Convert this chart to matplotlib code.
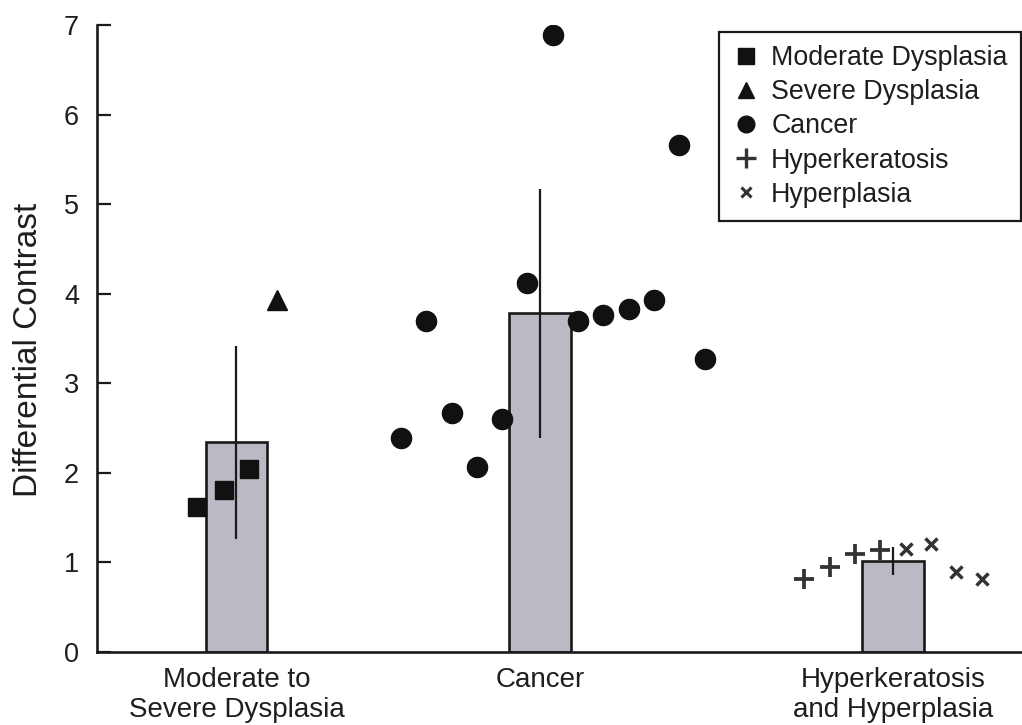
import matplotlib
matplotlib.use("Agg")
import matplotlib.pyplot as plt
from matplotlib.lines import Line2D

plt.rcParams['font.family'] = ['Liberation Sans', 'DejaVu Sans']

# Group summary (bar height = mean, line = spread)
groups = ["Moderate to\nSevere Dysplasia", "Cancer", "Hyperkeratosis\nand Hyperplasia"]
group_pos = [1.0, 2.2, 3.595]
bar_means = [2.34, 3.78, 1.01]
bar_err = [1.08, 1.39, 0.16]

# Individual lesions: offset from group centre and measured value
mod_dys_off = [-0.155, -0.05, 0.05]
mod_dys_val = [1.61, 1.81, 2.04]

sev_dys_off = [0.16]
sev_dys_val = [3.93]

cancer_off = [-0.55, -0.45, -0.35, -0.25, -0.15, -0.05, 0.05,
              0.15, 0.25, 0.35, 0.45, 0.55, 0.65]
cancer_val = [2.39, 3.70, 2.67, 2.06, 2.60, 4.12, 6.89,
              3.70, 3.76, 3.83, 3.93, 5.66, 3.27]

hyperk_off = [-0.35, -0.25, -0.15, -0.05]
hyperk_val = [0.81, 0.94, 1.09, 1.13]

hyperp_off = [0.05, 0.15, 0.25, 0.35]
hyperp_val = [1.15, 1.20, 0.89, 0.81]

yticks = [0, 1, 2, 3, 4, 5, 6, 7]

fig = plt.figure(figsize=(10.22, 7.25), dpi=100)
ax = fig.add_axes([97 / 1022, 1 - 651.5 / 725, 1 - 97 / 1022, (651.5 - 25.4) / 725])

text_col = "#1e1e1e"
bar_face = "#b9bac4"
edge_col = "#1a1a1a"

ax.bar(group_pos, bar_means, width=0.243, color=bar_face, edgecolor=edge_col,
       linewidth=1.9, zorder=2)
ax.errorbar(group_pos, bar_means, yerr=bar_err, fmt="none", ecolor=edge_col,
            elinewidth=1.6, capsize=0, zorder=3)

def place(gi, offs):
    return [group_pos[gi] + o for o in offs]

ax.plot(place(0, mod_dys_off), mod_dys_val, ls="none", marker="s", ms=13.5,
        color="#111111", zorder=4)
ax.plot(place(0, sev_dys_off), sev_dys_val, ls="none", marker="^", ms=15,
        color="#111111", zorder=4)
ax.plot(place(1, cancer_off), cancer_val, ls="none", marker="o", ms=14.5,
        color="#111111", zorder=4)
ax.plot(place(2, hyperk_off), hyperk_val, ls="none", marker="+", ms=15,
        mew=2.7, color="#333333", zorder=4)
ax.plot(place(2, hyperp_off), hyperp_val, ls="none", marker="x", ms=8,
        mew=2.5, color="#333333", zorder=4)

ax.set_xlim(0.4486, 4.105)
ax.set_ylim(0, 7)
ax.set_yticks(yticks)
ax.set_yticklabels([str(t) for t in yticks])
ax.set_xticks(group_pos)
ax.set_xticklabels(groups)

for side in ("top", "right"):
    ax.spines[side].set_visible(False)
for side in ("left", "bottom"):
    ax.spines[side].set_linewidth(1.9)
    ax.spines[side].set_color(edge_col)

ax.tick_params(axis="y", direction="in", length=10, width=1.6, pad=13,
               labelsize=19.5, labelcolor=text_col, color=edge_col)
ax.tick_params(axis="x", direction="in", length=9, width=1.6, pad=11,
               labelsize=20, labelcolor=text_col, color=edge_col)
for lbl in ax.get_xticklabels():
    lbl.set_linespacing(1.2)

ax.set_ylabel("Differential Contrast", fontsize=24, color=text_col)
ax.yaxis.set_label_coords(-0.0575, 0.4816)

handles = [
    Line2D([], [], ls="none", marker="s", ms=11, color="#111111"),
    Line2D([], [], ls="none", marker="^", ms=12, color="#111111"),
    Line2D([], [], ls="none", marker="o", ms=12, color="#111111"),
    Line2D([], [], ls="none", marker="+", ms=14, mew=2.4, color="#333333"),
    Line2D([], [], ls="none", marker="x", ms=7, mew=2.2, color="#333333"),
]
labels = ["Moderate Dysplasia", "Severe Dysplasia", "Cancer",
          "Hyperkeratosis", "Hyperplasia"]
leg = fig.legend(handles, labels, loc="upper right",
                 bbox_to_anchor=(1021 / 1022, 1 - 32 / 725),
                 fontsize=19.3, handlelength=1.0, handletextpad=0.45,
                 labelspacing=0.3, borderpad=0.5, borderaxespad=0,
                 frameon=True, fancybox=False, framealpha=1)
leg.get_frame().set_edgecolor(edge_col)
leg.get_frame().set_linewidth(1.6)
for t in leg.get_texts():
    t.set_color(text_col)

fig.savefig("out.png", dpi=100, facecolor="white")
